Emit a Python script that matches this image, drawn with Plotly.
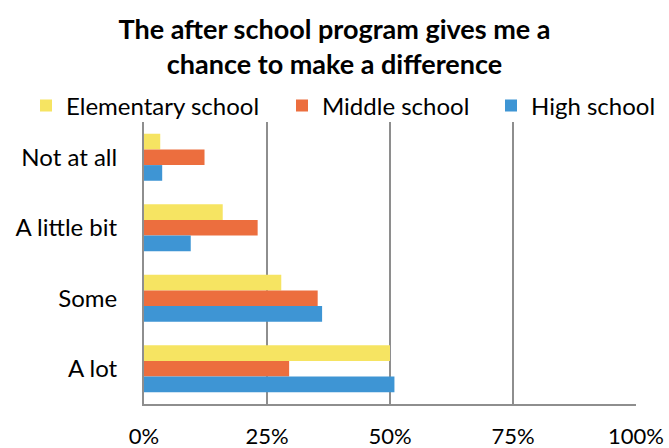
import plotly.graph_objects as go

categories = ["Not at all", "A little bit", "Some", "A lot"]
elementary = [3.3, 16.0, 27.9, 50.0]
middle = [12.3, 23.1, 35.3, 29.5]
high = [3.7, 9.5, 36.2, 50.9]
tick_vals = [0, 25, 50, 75, 100]
tick_text = ["0%", "25%", "50%", "75%", "100%"]

series = [
    ("Elementary school", elementary, "#F6E462", "legend", 26 / 669),
    ("Middle school", middle, "#EC6E3E", "legend2", 282 / 669),
    ("High school", high, "#3E95D4", "legend3", 491 / 669),
]

font_family = "Lato, 'Open Sans', sans-serif"

fig = go.Figure()
legends = {}
for name, vals, color, leg, lx in series:
    fig.add_trace(go.Bar(
        y=categories, x=vals, name=name, orientation="h",
        marker=dict(color=color, line=dict(width=0)),
        legend=leg, showlegend=True,
    ))
    legends[leg] = dict(
        orientation="h", x=lx, xanchor="left", xref="container",
        y=1 - 106 / 448, yanchor="middle", yref="container",
        font=dict(size=24), itemwidth=30,
        bgcolor="rgba(0,0,0,0)",
    )

fig.update_layout(
    width=669, height=448,
    showlegend=True,
    margin=dict(l=144, r=33, t=122, b=44, autoexpand=False),
    paper_bgcolor="white", plot_bgcolor="white",
    barmode="group", bargap=0.333, bargroupgap=0,
    font=dict(family=font_family, size=23, color="black"),
    title=dict(
        text="<b>The after school program gives me a<br>chance to make a difference</b>",
        x=0.5, xanchor="center", xref="container",
        y=1 - 39 / 448, yanchor="middle", yref="container",
        font=dict(size=27, color="black", family=font_family),
    ),
    xaxis=dict(
        range=[0, 100], tickvals=tick_vals, ticktext=tick_text,
        showgrid=True, gridcolor="#8E8E8E", gridwidth=2,
        showline=True, linecolor="#8E8E8E", linewidth=2,
        zeroline=False, ticks="", ticklabelstandoff=12,
        tickfont=dict(size=22), automargin=False,
    ),
    yaxis=dict(
        autorange="reversed", showgrid=False,
        showline=True, linecolor="#8E8E8E", linewidth=2,
        ticks="", ticklabelstandoff=20,
        tickfont=dict(size=24), automargin=False,
    ),
    **legends,
)

fig.write_html("out.html")
